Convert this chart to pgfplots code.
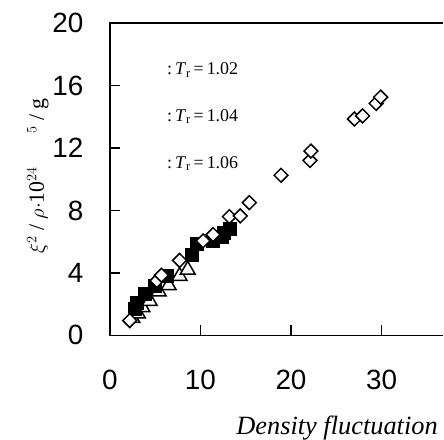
\documentclass[border=0pt]{standalone}
\usepackage{fontspec}
\setmainfont{Liberation Serif}
\newfontfamily\arial{Liberation Sans}
\usepackage{pgfplots}
\pgfplotsset{compat=1.18}

\begin{document}
\begin{tikzpicture}
\path (0,0) rectangle (444bp,439bp);
\begin{axis}[
  scale only axis,
  width=334bp, height=313bp,
  at={(110bp,103bp)}, anchor=south west,
  xmin=0, xmax=36.8, ymin=0, ymax=20,
  xtick={0,10,20,30}, ytick={0,4,8,12,16,20},
  axis line style={draw=none},
  tick pos=left,
  tick align=inside,
  major tick length=10bp,
  every tick/.append style={line width=1.5bp, black},
  /pgf/number format/assume math mode=true,
  tick label style={font=\arial\fontsize{28}{30}\selectfont},
  xticklabel style={yshift=-31bp},
  yticklabel style={xshift=-23bp},
  clip=false,
  xlabel={\fontsize{26.5}{28}\selectfont\itshape Density fluctuation},
  x label style={at={(axis description cs:0.984,-0.316)}, anchor=base east, inner sep=0pt},
  ylabel={\fontsize{22}{24}\selectfont $\xi^2$ / $\rho$$\cdot$10$^{24}$\hspace{1.5em}$^5$ / g},
  y label style={at={(axis description cs:-0.216,0.51)}, anchor=center},
]
\draw[line width=1.6bp] (rel axis cs:1,1) -- (rel axis cs:0,1) -- (rel axis cs:0,0) -- (rel axis cs:1,0);

% T_r = 1.06 (open triangles)
\addplot[only marks, mark=triangle*, mark size=8.5bp,
  mark options={fill=white, draw=black, line width=1.5bp}] coordinates {
  (2.5,1.1) (3.1,1.4) (3.6,1.8) (4.4,2.2) (5.4,2.8) (6.5,3.2) (7.7,3.8) (8.6,4.2)
};
% T_r = 1.04 (filled squares)
\addplot[only marks, mark=square*, mark size=6.5bp,
  mark options={fill=black, draw=black}] coordinates {
  (2.7,1.7) (3.0,2.1) (3.9,2.7) (5.0,3.2) (6.3,3.8) (9.0,5.15) (9.6,5.85)
  (11.4,6.05) (11.8,6.35) (12.4,6.3) (12.6,6.6) (13.2,6.8)
};
% T_r = 1.02 (open diamonds)
\addplot[only marks, mark=square*, mark size=4.9bp,
  mark options={rotate=45, fill=white, draw=black, line width=1.5bp}] coordinates {
  (2.2,0.95) (5.2,3.5) (5.7,3.85) (7.7,4.8) (10.3,6.05) (11.4,6.45)
  (13.2,7.6) (14.4,7.65) (15.4,8.5) (18.9,10.25) (22.1,11.2) (22.2,11.8)
  (27.0,13.85) (27.9,14.05) (29.4,14.85) (29.9,15.25)
};

\node[anchor=west, inner sep=0pt, font=\fontsize{18}{22}\selectfont] at (axis cs:6.3,17.0) {:\,\textit{T}\textsubscript{r}\,=\,1.02};
\node[anchor=west, inner sep=0pt, font=\fontsize{18}{22}\selectfont] at (axis cs:6.3,14.0) {:\,\textit{T}\textsubscript{r}\,=\,1.04};
\node[anchor=west, inner sep=0pt, font=\fontsize{18}{22}\selectfont] at (axis cs:6.3,11.0) {:\,\textit{T}\textsubscript{r}\,=\,1.06};
\end{axis}
\end{tikzpicture}
\end{document}
